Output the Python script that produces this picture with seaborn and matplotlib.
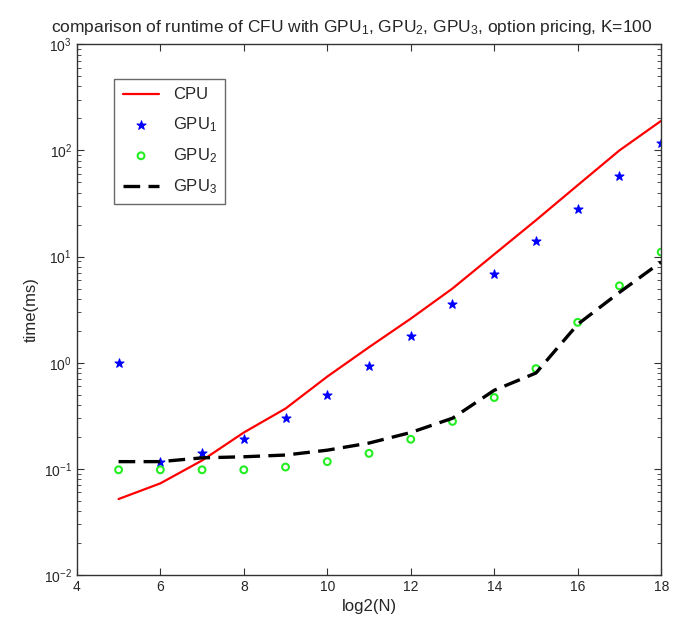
import numpy as np
import pandas as pd
import seaborn as sns
from matplotlib import pyplot as plt
from matplotlib.ticker import LogLocator, NullFormatter

# log2(N)
n = [5, 6, 7, 8, 9, 10, 11, 12, 13, 14, 15, 16, 17, 18]

cpu = [0.052, 0.073, 0.12, 0.22, 0.37, 0.74, 1.4, 2.6, 5.0, 10.5, 22, 47, 100, 190]
gpu1 = [1.0, 0.115, 0.14, 0.19, 0.30, 0.50, 0.94, 1.8, 3.6, 6.9, 14, 28, 57, 117]
gpu2 = [0.098, 0.098, 0.098, 0.098, 0.104, 0.117, 0.14, 0.19, 0.28, 0.47, 0.88, 2.4, 5.3, 11]
gpu3 = [0.117, 0.117, 0.127, 0.13, 0.135, 0.15, 0.175, 0.22, 0.30, 0.55, 0.8, 2.3, 4.6, 8.9]

df = pd.DataFrame({"n": n, "cpu": cpu, "gpu1": gpu1, "gpu2": gpu2, "gpu3": gpu3})

sns.set_style("ticks")
plt.rcParams['font.family'] = ['Liberation Sans', 'DejaVu Sans']
plt.rcParams['mathtext.fontset'] = 'custom'
plt.rcParams['mathtext.rm'] = 'Liberation Sans'
plt.rcParams['mathtext.it'] = 'Liberation Sans'

fig = plt.figure(figsize=(6.74, 6.23), dpi=100)
ax = fig.add_axes([0.114, 0.077, 0.867, 0.852])

sns.lineplot(ax=ax, data=df, x="n", y="cpu", color="red", linewidth=1.6, label="CPU")
sns.scatterplot(ax=ax, data=df, x="n", y="gpu1", marker="*", color="blue", s=45,
                edgecolor="blue", linewidth=0.8, label="GPU$_1$")
sns.scatterplot(ax=ax, data=df, x="n", y="gpu2", marker="o", facecolor="none",
                edgecolor="#22ee22", linewidth=1.5, s=24, label="GPU$_2$")
sns.lineplot(ax=ax, data=df, x="n", y="gpu3", color="black", linewidth=2.4,
             dashes=False, label="GPU$_3$")
ax.lines[-1].set_dashes([5, 2.5])

ax.set_yscale("log")
ax.set_xlim(4, 18)
ax.set_ylim(1e-2, 1e3)
ax.set_xticks([4, 6, 8, 10, 12, 14, 16, 18])
ax.yaxis.set_major_locator(LogLocator(base=10, numticks=10))
ax.yaxis.set_minor_locator(LogLocator(base=10, subs=np.arange(2, 10), numticks=20))
ax.yaxis.set_minor_formatter(NullFormatter())
ax.tick_params(which="both", direction="in", top=True, right=True, labelsize=10, color="#333333")
ax.tick_params(which="major", length=5)
ax.tick_params(which="minor", length=3)
for s in ax.spines.values():
    s.set_linewidth(1.0)
    s.set_color("#333333")

ax.set_xlabel("log2(N)", fontsize=12)
ax.set_ylabel("time(ms)", fontsize=12)
ax.set_title("comparison of runtime of CFU with GPU$_1$, GPU$_2$, GPU$_3$, option pricing, K=100",
             fontsize=12.5, pad=9, x=0.47)

leg = ax.legend(loc="upper left", bbox_to_anchor=(0.05, 0.95), fontsize=12,
                frameon=True, fancybox=False, edgecolor="#444444",
                handlelength=2.2, labelspacing=0.75, borderpad=0.5)
leg.get_frame().set_linewidth(1.0)

fig.savefig("out.png", dpi=100)
